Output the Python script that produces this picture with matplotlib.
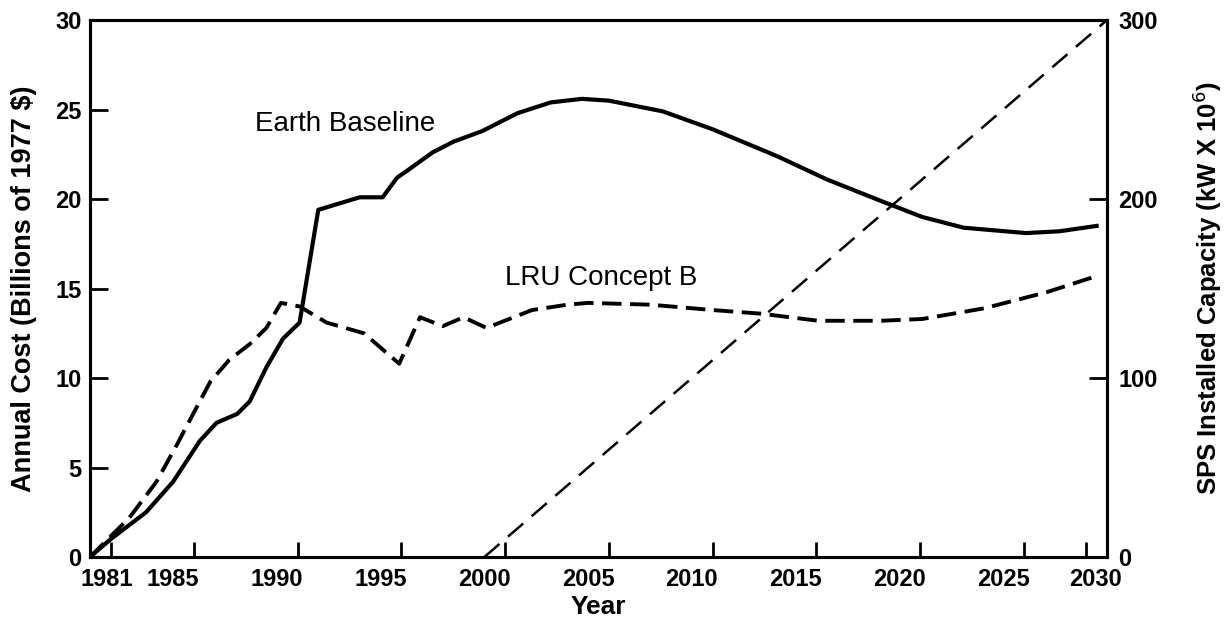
import matplotlib
matplotlib.use("Agg")
import matplotlib.pyplot as plt
from matplotlib.transforms import ScaledTranslation

plt.rcParams["font.family"] = ["Liberation Sans", "DejaVu Sans"]

# Earth Baseline annual cost (billions of 1977 $)
base_years = [1981, 1982, 1983.7, 1985, 1986.3, 1987.1, 1988.1, 1988.7, 1989.5, 1990.3,
              1991.1, 1992.0, 1994.0, 1995.1, 1995.8, 1996.3, 1997.5, 1998.5, 1999.9, 2001.6,
              2003.2, 2004.7, 2006.0, 2008.6, 2011.0, 2014.1, 2016.5, 2019.1, 2021.1, 2023.1,
              2026.1, 2027.7, 2029.5]
base_cost = [0, 1.0, 2.5, 4.2, 6.5, 7.5, 8.0, 8.7, 10.6, 12.2,
             13.1, 19.4, 20.1, 20.1, 21.2, 21.6, 22.6, 23.2, 23.8, 24.8,
             25.4, 25.6, 25.5, 24.9, 23.9, 22.4, 21.1, 19.9, 19.0, 18.4,
             18.1, 18.2, 18.5]

# LRU Concept B annual cost
lru_years = [1981, 1982.9, 1984.2, 1985.2, 1986.2, 1986.8, 1987.7, 1988.7, 1989.5, 1990.2,
             1991.1, 1992.4, 1994.2, 1995.9, 1996.9, 1998.0, 1999.0, 2000.1, 2002.3, 2004.0,
             2005.0, 2008.0, 2011.0, 2013.3, 2016.1, 2019.1, 2021.1, 2024.1, 2027.1, 2029.5]
lru_cost = [0, 2.2, 4.2, 6.3, 8.5, 9.8, 11.0, 11.9, 12.8, 14.2,
            14.0, 13.1, 12.5, 10.8, 13.4, 12.9, 13.4, 12.8, 13.8, 14.1,
            14.2, 14.1, 13.8, 13.6, 13.2, 13.2, 13.3, 13.9, 14.8, 15.7]

# SPS installed capacity (kW x 10^6)
sps_years = [2000, 2030]
sps_capacity = [0, 300]

year_labels = [1981, 1985, 1990, 1995, 2000, 2005, 2010, 2015, 2020, 2025, 2030]
year_marks = [1982, 1985, 1986, 1990, 1991, 1995, 1996, 2000, 2001, 2005, 2006,
              2010, 2011, 2015, 2016, 2020, 2021, 2025, 2026, 2029]

fig, ax = plt.subplots(figsize=(12.24, 6.28), dpi=100)
fig.subplots_adjust(left=0.0735, right=0.9044, bottom=0.1130, top=0.968)

ax.plot(base_years, base_cost, color="black", lw=3.0, solid_joinstyle="round")
ax.plot(lru_years, lru_cost, color="black", lw=2.8, dashes=(5, 2.2),
        dash_capstyle="butt")

ax2 = ax.twinx()
ax2.plot(sps_years, sps_capacity, color="black", lw=1.8, dashes=(8, 4.5))

ax.set_xlim(1981, 2030)
ax.set_ylim(0, 30)
ax2.set_ylim(0, 300)

for a in (ax, ax2):
    for s in a.spines.values():
        s.set_linewidth(2.2)

ax.set_xticks(year_labels)
ax.set_xticklabels([str(y) for y in year_labels])
ax.set_xticks(year_marks, minor=True)
ax.tick_params(axis="x", which="major", length=0, pad=8, labelsize=17)
ax.tick_params(axis="x", which="minor", direction="in", length=11, width=2)
for lbl in ax.get_xticklabels():
    lbl.set_fontweight("bold")
# nudge end labels away from the corner "0" labels
ticks = ax.xaxis.get_major_ticks()
first = ticks[0].label1
first.set_transform(first.get_transform() + ScaledTranslation(0.17, 0, fig.dpi_scale_trans))
last = ticks[-1].label1
last.set_transform(last.get_transform() + ScaledTranslation(-0.11, 0, fig.dpi_scale_trans))

ax.set_yticks([0, 5, 10, 15, 20, 25, 30])
ax.tick_params(axis="y", direction="in", length=13, width=2, pad=6, labelsize=17)
for lbl in ax.get_yticklabels():
    lbl.set_fontweight("bold")

ax2.set_yticks([0, 100, 200, 300])
ax2.tick_params(axis="y", direction="in", length=13, width=2, pad=8, labelsize=17)
for lbl in ax2.get_yticklabels():
    lbl.set_fontweight("bold")

ax.set_xlabel("Year", fontsize=19, fontweight="bold", labelpad=3)
ax.set_ylabel("Annual Cost (Billions of 1977 $)", fontsize=19.5, fontweight="bold", labelpad=13)
ax2.set_ylabel("SPS Installed Capacity (kW X 10$^6$)", fontsize=18.5, fontweight="bold",
               labelpad=24)

ax.text(1993.3, 24.2, "Earth Baseline", fontsize=20, ha="center", va="center")
ax.text(2001.0, 15.6, "LRU Concept B", fontsize=20, ha="left", va="center")

fig.savefig("out.png", dpi=100)
